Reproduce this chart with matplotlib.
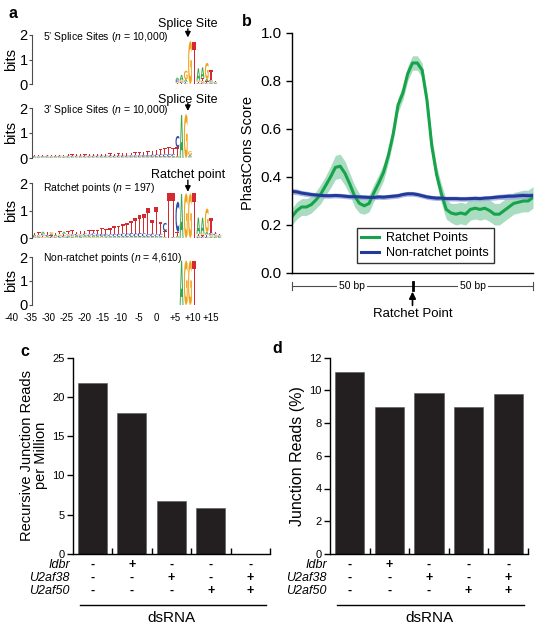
import numpy as np
import matplotlib
matplotlib.use('Agg')
import matplotlib.pyplot as plt
import matplotlib.transforms as mtransforms
from matplotlib.textpath import TextPath
from matplotlib.patches import PathPatch
from matplotlib.font_manager import FontProperties
from matplotlib.transforms import Affine2D

plt.rcParams['font.family'] = ['Liberation Sans', 'DejaVu Sans']
plt.rcParams['mathtext.fontset'] = 'custom'
plt.rcParams['mathtext.rm'] = 'Liberation Sans'
plt.rcParams['mathtext.it'] = 'Liberation Sans:italic'

# ---------------- panel a : sequence logos (bits per letter) ----------------
pos5 = [-3, -2, -1, 0, 1, 2, 3, 4, 5, 6]
ss5_A = [0.10, 0.22, 0.10, 0.00, 0.00, 0.50, 0.45, 0.10, 0.05, 0.03]
ss5_C = [0.08, 0.05, 0.03, 0.00, 0.00, 0.03, 0.05, 0.03, 0.06, 0.03]
ss5_G = [0.05, 0.06, 0.35, 1.75, 0.00, 0.06, 0.08, 0.65, 0.05, 0.03]
ss5_T = [0.03, 0.04, 0.06, 0.00, 1.72, 0.05, 0.10, 0.08, 0.42, 0.04]

pos3 = list(range(-37, 1))
ss3_A = [0.03, 0.02, 0.03, 0.03, 0.02, 0.03, 0.03, 0.02, 0.03, 0.03,
         0.02, 0.03, 0.02, 0.03, 0.02, 0.02, 0.03, 0.02, 0.02, 0.02,
         0.02, 0.02, 0.02, 0.02, 0.02, 0.02, 0.02, 0.02, 0.02, 0.02,
         0.02, 0.02, 0.02, 0.03, 0.05, 1.72, 0.00, 0.06]
ss3_C = [0.03, 0.03, 0.03, 0.04, 0.03, 0.03, 0.04, 0.03, 0.04, 0.04,
         0.04, 0.04, 0.05, 0.04, 0.05, 0.05, 0.05, 0.05, 0.06, 0.05,
         0.06, 0.06, 0.06, 0.07, 0.07, 0.07, 0.08, 0.08, 0.09, 0.10,
         0.10, 0.11, 0.12, 0.10, 0.45, 0.00, 0.00, 0.04]
ss3_G = [0.02, 0.03, 0.02, 0.02, 0.03, 0.02, 0.02, 0.03, 0.02, 0.02,
         0.03, 0.02, 0.02, 0.02, 0.02, 0.02, 0.02, 0.02, 0.02, 0.02,
         0.02, 0.02, 0.02, 0.02, 0.02, 0.02, 0.02, 0.02, 0.02, 0.02,
         0.02, 0.02, 0.02, 0.03, 0.03, 0.00, 1.75, 0.15]
ss3_T = [0.05, 0.05, 0.06, 0.05, 0.06, 0.06, 0.05, 0.06, 0.07, 0.06,
         0.07, 0.07, 0.06, 0.07, 0.08, 0.07, 0.08, 0.08, 0.09, 0.08,
         0.09, 0.10, 0.10, 0.11, 0.12, 0.12, 0.14, 0.15, 0.17, 0.20,
         0.22, 0.26, 0.28, 0.24, 0.35, 0.00, 0.00, 0.02]

posr = list(range(-37, 8))
rp_A = [0.05, 0.03, 0.08, 0.04, 0.06, 0.05, 0.03, 0.08, 0.05, 0.04,
        0.06, 0.04, 0.05, 0.04, 0.05, 0.04, 0.04, 0.03, 0.03, 0.03,
        0.03, 0.03, 0.02, 0.03, 0.02, 0.02, 0.03, 0.02, 0.02, 0.03,
        0.03, 0.03, 0.00, 0.00, 0.04, 1.60, 0.00, 0.00, 0.00, 0.60,
        0.58, 0.10, 0.05, 0.05, 0.04]
rp_C = [0.04, 0.03, 0.06, 0.04, 0.05, 0.03, 0.05, 0.06, 0.04, 0.05,
        0.06, 0.05, 0.07, 0.06, 0.08, 0.07, 0.08, 0.09, 0.08, 0.10,
        0.10, 0.12, 0.12, 0.13, 0.12, 0.14, 0.12, 0.10, 0.12, 0.08,
        0.10, 0.30, 0.00, 0.03, 1.10, 0.00, 0.00, 0.00, 0.00, 0.04,
        0.05, 0.04, 0.08, 0.06, 0.04]
rp_G = [0.03, 0.05, 0.04, 0.03, 0.06, 0.04, 0.05, 0.03, 0.06, 0.04,
        0.03, 0.05, 0.04, 0.03, 0.04, 0.03, 0.03, 0.03, 0.02, 0.02,
        0.02, 0.02, 0.02, 0.02, 0.02, 0.02, 0.02, 0.02, 0.02, 0.02,
        0.02, 0.02, 0.00, 0.00, 0.03, 0.00, 1.62, 1.62, 0.00, 0.05,
        0.06, 0.85, 0.06, 0.05, 0.04]
rp_T = [0.06, 0.10, 0.05, 0.12, 0.05, 0.08, 0.12, 0.06, 0.10, 0.15,
        0.08, 0.12, 0.10, 0.15, 0.12, 0.15, 0.20, 0.18, 0.22, 0.28,
        0.30, 0.35, 0.40, 0.45, 0.55, 0.65, 0.70, 0.95, 0.50, 1.00,
        0.45, 0.20, 1.65, 1.62, 0.15, 0.00, 0.00, 0.00, 1.62, 0.05,
        0.05, 0.08, 0.55, 0.06, 0.04]

posn = [-2, -1, 0, 1]
nr_A = [1.85, 0.00, 0.00, 0.00]
nr_C = [0.00, 0.00, 0.00, 0.00]
nr_G = [0.00, 1.85, 1.85, 0.00]
nr_T = [0.00, 0.00, 0.00, 1.85]

logo_xlabels = ['-40', '-35', '-30', '-25', '-20', '-15', '-10', '-5', '0', '+5', '+10', '+15']

# ---------------- panel b : PhastCons around ratchet points ----------------
bp = np.arange(-50, 51, 2)
ratchet_score = [0.235, 0.26, 0.275, 0.275, 0.285, 0.305, 0.33, 0.365, 0.40, 0.44,
                 0.445, 0.415, 0.37, 0.32, 0.29, 0.28, 0.29, 0.335, 0.375, 0.42,
                 0.49, 0.58, 0.70, 0.75, 0.83, 0.875, 0.875, 0.845, 0.72, 0.53,
                 0.41, 0.33, 0.265, 0.25, 0.245, 0.25, 0.245, 0.265, 0.27, 0.265,
                 0.27, 0.26, 0.245, 0.245, 0.26, 0.275, 0.29, 0.295, 0.30, 0.30, 0.315]
ratchet_err = [0.035, 0.035, 0.035, 0.035, 0.035, 0.035, 0.04, 0.04, 0.045, 0.05,
               0.05, 0.05, 0.045, 0.045, 0.04, 0.035, 0.035, 0.035, 0.035, 0.035,
               0.03, 0.03, 0.03, 0.03, 0.03, 0.03, 0.03, 0.03, 0.03, 0.035,
               0.035, 0.04, 0.04, 0.04, 0.045, 0.045, 0.045, 0.045, 0.045, 0.045,
               0.045, 0.045, 0.045, 0.045, 0.045, 0.045, 0.045, 0.045, 0.045, 0.045, 0.045]
nonratchet_score = [0.34, 0.338, 0.333, 0.33, 0.327, 0.325, 0.323, 0.322, 0.322, 0.323,
                    0.322, 0.32, 0.318, 0.318, 0.317, 0.316, 0.315, 0.315, 0.317, 0.316,
                    0.318, 0.32, 0.322, 0.327, 0.33, 0.33, 0.327, 0.322, 0.317, 0.314,
                    0.312, 0.312, 0.31, 0.31, 0.31, 0.309, 0.309, 0.31, 0.311, 0.31,
                    0.312, 0.313, 0.315, 0.317, 0.318, 0.32, 0.32, 0.322, 0.323, 0.322, 0.323]
nonratchet_err = [0.012, 0.012, 0.011, 0.011, 0.01, 0.01, 0.01, 0.01, 0.01, 0.01,
                  0.01, 0.01, 0.01, 0.01, 0.01, 0.01, 0.01, 0.01, 0.01, 0.01,
                  0.01, 0.01, 0.01, 0.01, 0.01, 0.01, 0.01, 0.01, 0.01, 0.01,
                  0.01, 0.01, 0.01, 0.01, 0.01, 0.01, 0.01, 0.01, 0.01, 0.01,
                  0.01, 0.01, 0.011, 0.011, 0.012, 0.012, 0.012, 0.013, 0.013, 0.013, 0.013]

# ---------------- panels c, d : knockdowns ----------------
recursive_reads = [21.8, 18.0, 6.7, 5.9, 0.0]
junction_pct = [11.1, 9.0, 9.85, 9.0, 9.8]
row_labels = ['Idbr', 'U2af38', 'U2af50']
idbr_kd = ['-', '+', '-', '-', '-']
u2af38_kd = ['-', '-', '+', '-', '+']
u2af50_kd = ['-', '-', '-', '+', '+']

W, H = 544, 629
fig = plt.figure(figsize=(W / 100, H / 100), dpi=100)


def add_ax(x0, y0, x1, y1):
    return fig.add_axes([x0 / W, 1 - y1 / H, (x1 - x0) / W, (y1 - y0) / H])


letter_font = FontProperties(family='DejaVu Sans', weight='bold')
letter_colors = {'A': '#3aa64a', 'C': '#2f4fa6', 'G': '#f3a21c', 'T': '#d4292e'}


def draw_letter(ax, ch, x, y, w, h):
    tp = TextPath((0, 0), ch, size=1, prop=letter_font)
    bb = tp.get_extents()
    tr = Affine2D().translate(-bb.x0, -bb.y0).scale(w / bb.width, h / bb.height).translate(x, y)
    ax.add_patch(PathPatch(tr.transform_path(tp), fc=letter_colors[ch], ec='none', lw=0))


def draw_logo(ax, pos, A, C, G, T):
    for i, p in enumerate(pos):
        stack = sorted([(A[i], 'A'), (C[i], 'C'), (G[i], 'G'), (T[i], 'T')])
        y = 0
        for h, ch in stack:
            if h > 0:
                draw_letter(ax, ch, p + 0.05, y, 0.9, h)
                y += h


logo_boxes = [(35, 84), (108, 158), (183, 238), (257, 305)]
logo_data = [(pos5, ss5_A, ss5_C, ss5_G, ss5_T),
             (pos3, ss3_A, ss3_C, ss3_G, ss3_T),
             (posr, rp_A, rp_C, rp_G, rp_T),
             (posn, nr_A, nr_C, nr_G, nr_T)]
logo_titles = ['5\u2019 Splice Sites ($n$ = 10,000)', '3\u2019 Splice Sites ($n$ = 10,000)',
               'Ratchet points ($n$ = 197)', 'Non-ratchet points ($n$ = 4,610)']
title_y = [0.96, 0.96, 0.91, 0.98]
# (label, text y, arrow tail, arrow tip) in bits
logo_arrows = [('Splice Site', 2.45, 2.25, 1.9), ('Splice Site', 2.32, 2.18, 1.88),
               ('Ratchet point', 2.3, 2.1, 1.68), None]

for k, (y0, y1) in enumerate(logo_boxes):
    ax = add_ax(32, y0, 224, y1)
    draw_logo(ax, *logo_data[k])
    ax.set_xlim(-37.1, 8.6)
    ax.set_ylim(0, 2)
    for s in ['top', 'right', 'bottom']:
        ax.spines[s].set_visible(False)
    ax.spines['left'].set_linewidth(0.8)
    ax.spines['left'].set_color('0.3')
    ax.set_xticks([])
    ax.set_yticks([0, 1, 2])
    ax.set_yticklabels(['0', '1', '2'], fontsize=10.5)
    ax.tick_params(axis='y', length=2, width=0.8, pad=1, color='0.3')
    ax.set_ylabel('bits', fontsize=10.5, labelpad=1)
    ax.patch.set_visible(False)
    ax.text(0.056, title_y[k], logo_titles[k], transform=ax.transAxes, fontsize=7.5, va='center')
    if logo_arrows[k] is not None:
        lab, ty, ya, yb = logo_arrows[k]
        ax.text(0, ty, lab, ha='center', va='center', fontsize=9, clip_on=False)
        ax.annotate('', xy=(0, yb), xytext=(0, ya),
                    arrowprops=dict(arrowstyle='-|>', color='black', lw=1.0, mutation_scale=8,
                                    shrinkA=0, shrinkB=0), annotation_clip=False)

ax_lab = add_ax(12, 300, 211, 305)
ax_lab.set_xlim(-40, 15)
ax_lab.set_xticks(np.arange(-40, 16, 5))
ax_lab.set_xticklabels(logo_xlabels, fontsize=7)
ax_lab.tick_params(axis='x', length=0, pad=6)
ax_lab.set_yticks([])
for s in ax_lab.spines.values():
    s.set_visible(False)
ax_lab.patch.set_visible(False)

# ---------------- panel b ----------------
axb = add_ax(292, 33, 533, 273)
rs = np.array(ratchet_score)
re_ = np.array(ratchet_err)
ns = np.array(nonratchet_score)
ne = np.array(nonratchet_err)
axb.fill_between(bp, rs - re_, rs + re_, color='#a9dcc0', lw=0)
axb.fill_between(bp, ns - ne, ns + ne, color='#9aa7dc', lw=0, alpha=0.8)
axb.plot(bp, rs, color='#17a34a', lw=2.2, label='Ratchet Points')
axb.plot(bp, ns, color='#223b9b', lw=2.2, label='Non-ratchet points')
axb.set_xlim(-50, 50)
axb.set_ylim(0, 1.0)
axb.set_yticks(np.arange(0, 1.01, 0.2))
axb.set_yticklabels(['0.0', '0.2', '0.4', '0.6', '0.8', '1.0'], fontsize=11)
axb.set_xticks([])
axb.tick_params(axis='y', direction='out', length=4, width=1)
for s in ['top', 'right']:
    axb.spines[s].set_visible(False)
axb.spines['left'].set_linewidth(1)
axb.spines['bottom'].set_linewidth(1)
axb.set_ylabel('PhastCons Score', fontsize=10.5, labelpad=4)
leg = axb.legend(loc='lower left', bbox_to_anchor=(0.27, 0.04), fontsize=9, frameon=True,
                 fancybox=False, handlelength=1.4, borderpad=0.35, labelspacing=0.25,
                 handletextpad=0.6, borderaxespad=0)
leg.get_frame().set_edgecolor('black')
leg.get_frame().set_linewidth(1.0)

trb = mtransforms.blended_transform_factory(axb.transData, axb.transAxes)
ysb = -0.054
axb.plot([-50, 50], [ysb, ysb], transform=trb, color='0.3', lw=0.8, clip_on=False)
for xv in (-50, 50):
    axb.plot([xv, xv], [ysb - 0.016, ysb + 0.016], transform=trb, color='0.3', lw=0.8, clip_on=False)
axb.plot([0, 0], [ysb - 0.015, ysb + 0.015], transform=trb, color='black', lw=2, clip_on=False)
for xv in (-25, 25):
    axb.text(xv, ysb, '50 bp', transform=trb, ha='center', va='center', fontsize=7.5,
             bbox=dict(fc='white', ec='none', pad=1.5))
axb.annotate('', xy=(0, -0.078), xytext=(0, -0.135), xycoords=trb, textcoords=trb,
             arrowprops=dict(arrowstyle='-|>', color='black', lw=1.2, mutation_scale=10,
                             shrinkA=0, shrinkB=0), annotation_clip=False)
axb.text(0, -0.172, 'Ratchet Point', transform=trb, ha='center', va='center', fontsize=9.5)


# ---------------- panels c, d ----------------
def bar_panel(x0, x1, values, ymax, ystep, ylabel, ylab_size, lab_right):
    ax = add_ax(x0, 357.5, x1, 554)
    xs = np.arange(len(values)) + 0.5
    ax.bar(xs, values, width=0.74, color='#231f20', edgecolor='#555555', lw=0.4)
    ax.set_xlim(0, len(values))
    ax.set_ylim(0, ymax)
    ax.set_yticks(np.arange(0, ymax + 0.1, ystep))
    ax.tick_params(axis='y', direction='out', length=4, width=1, labelsize=8, pad=2)
    ax.set_xticks(np.arange(1, len(values) + 1))
    ax.set_xticklabels([])
    ax.tick_params(axis='x', direction='in', length=4, width=1)
    for s in ['top', 'right']:
        ax.spines[s].set_visible(False)
    ax.spines['left'].set_linewidth(1)
    ax.spines['bottom'].set_linewidth(1)
    ax.set_ylabel(ylabel, fontsize=ylab_size, labelpad=3, linespacing=1.0)
    tr = mtransforms.blended_transform_factory(ax.transData, fig.transFigure)
    rows = [idbr_kd, u2af38_kd, u2af50_kd]
    row_y = [565, 578, 591]
    lab_x = (lab_right - x0) / (x1 - x0) * len(values)
    for r, name in enumerate(row_labels):
        yy = 1 - row_y[r] / H
        ax.text(lab_x, yy, name, transform=tr, ha='right', va='center', fontsize=9,
                style='italic')
        for i, sgn in enumerate(rows[r]):
            ax.text(xs[i], yy, sgn, transform=tr, ha='center', va='center',
                    fontsize=9, fontweight='bold')
    ax.plot([0.18, 4.9], [1 - 605 / H, 1 - 605 / H], transform=tr, color='black', lw=1,
            clip_on=False)
    ax.text(2.5, 1 - 618 / H, 'dsRNA', transform=tr, ha='center', va='center', fontsize=11)
    return ax


bar_panel(72.7, 270, recursive_reads, 25, 5, 'Recursive Junction Reads\nper Million', 10.5, 70)
bar_panel(330, 528, junction_pct, 12, 2, 'Junction Reads (%)', 11.5, 327)

# panel letters
for lab, px, py in [('a', 13, 14), ('b', 247, 22), ('c', 25, 351), ('d', 277, 349)]:
    fig.text(px / W, 1 - py / H, lab, fontsize=11.5, fontweight='bold', ha='center', va='center')

fig.savefig('out.png', dpi=100)
